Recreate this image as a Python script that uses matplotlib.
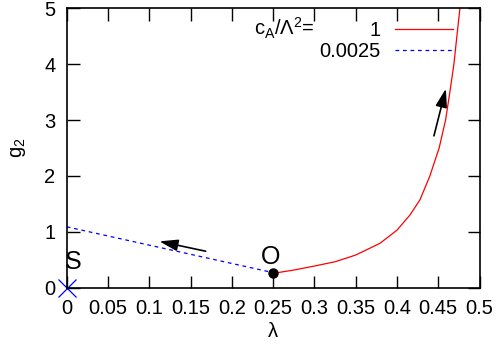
import numpy as np
import matplotlib.pyplot as plt

plt.rcParams['font.family'] = ['Liberation Sans', 'DejaVu Sans']
plt.rcParams['mathtext.fontset'] = 'custom'
plt.rcParams['mathtext.rm'] = 'Liberation Sans'
plt.rcParams['mathtext.it'] = 'Liberation Sans'
plt.rcParams['mathtext.default'] = 'regular'

# red branch, c_A/Lambda^2 = 1
lam_red = [0.25, 0.275, 0.30, 0.325, 0.35, 0.3793, 0.40, 0.4156, 0.4277, 0.4398,
           0.451, 0.4588, 0.464, 0.4689, 0.4725, 0.4762]
g2_red = [0.257, 0.316, 0.388, 0.465, 0.585, 0.794, 1.03, 1.30, 1.57, 2.0,
          2.5, 3.0, 3.5, 4.0, 4.5, 5.0]

# blue branch, c_A/Lambda^2 = 0.0025
lam_blue = [0.0, 0.25]
g2_blue = [1.09, 0.27]

point_O = (0.25, 0.27)
point_S = (0.0, 0.0)

xtick_labels = ['0', '0.05', '0.1', '0.15', '0.2', '0.25', '0.3', '0.35', '0.4', '0.45', '0.5']


def main():
    fig = plt.figure(figsize=(4.98, 3.49), dpi=100)
    ax = fig.add_axes([0.134, 0.1756, 0.829, 0.8004])

    ax.plot(lam_red, g2_red, '-', color='red', lw=0.9, label='1')
    ax.plot(lam_blue, g2_blue, '--', color='blue', lw=0.9, dashes=(3, 3), label='0.0025')
    ax.plot(*point_O, 'o', color='black', ms=6.5)
    ax.plot(*point_S, 'x', color='blue', ms=13, mew=0.9, clip_on=False)

    ax.text(0.0075, 0.46, 'S', fontsize=18, ha='center', va='center')
    ax.text(0.2475, 0.55, 'O', fontsize=18, ha='center', va='center')

    arrow = dict(arrowstyle='-|>,head_length=0.7,head_width=0.22', color='black',
                 lw=1.2, mutation_scale=16)
    ax.annotate('', xy=(0.109, 0.84), xytext=(0.1715, 0.643), arrowprops=arrow)
    ax.annotate('', xy=(0.46, 3.61), xytext=(0.4439, 2.67), arrowprops=arrow)

    ax.set_xlim(0, 0.5)
    ax.set_ylim(0, 5)
    ax.set_xticks(np.arange(0, 0.501, 0.05))
    ax.set_xticklabels(xtick_labels)
    ax.set_yticks(range(6))
    ax.tick_params(direction='in', length=9, width=1, top=True, right=True,
                   labelsize=14.5, pad=8)
    for s in ax.spines.values():
        s.set_linewidth(1.2)

    ax.set_xlabel('λ', fontsize=14.5, labelpad=3)
    ax.set_ylabel('g$_2$', fontsize=14.5, labelpad=12)

    leg = ax.legend(loc='upper right', bbox_to_anchor=(0.955, 0.985), frameon=False,
                    fontsize=14.5, markerfirst=False, handlelength=2.9, handletextpad=0.7,
                    labelspacing=0.12, borderaxespad=0)
    for t in leg.get_texts():
        t.set_ha('right')
    ax.text(0.528, 0.904, 'c$_A$/Λ$^2$=', transform=ax.transAxes, fontsize=14.5,
            ha='center', va='baseline')

    fig.savefig('out.png', dpi=100)


if __name__ == '__main__':
    main()
